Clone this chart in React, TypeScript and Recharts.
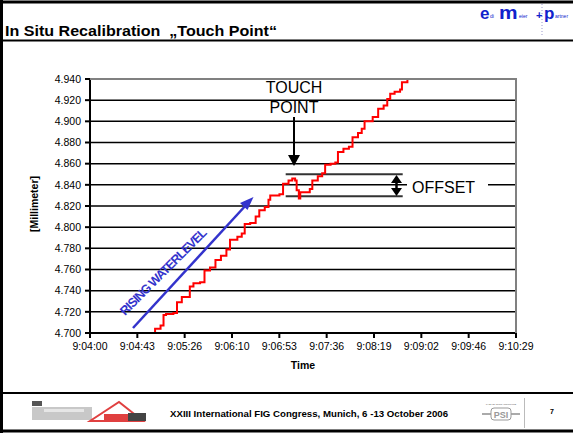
import React from 'react';
import { LineChart, Line, XAxis, YAxis, CartesianGrid, ReferenceLine } from 'recharts';

// seconds after 9:04:00
const timeSec = [
  54.4, 59.4, 64.4, 67.1, 69.4, 76.1, 79.4, 83.8, 87.8, 91.1, 94.4, 100.5, 104.5, 109.5, 114.5,
  119.5, 124.5, 127.8, 134.5, 138.5, 141.2, 146.2, 151.2, 154.5, 159.5, 162.9, 164.5, 172.9,
  176.2, 181.2, 184.6, 187.2, 188.6, 190.6, 191.9, 196.2, 200.6, 202.9, 207.9, 211.9, 214.6,
  219.6, 223.9, 226.3, 231.3, 236.3, 239.6, 244.6, 248.0, 250.6, 255.3, 258.0, 263.0, 268.0,
  271.3, 274.0, 278.0, 283.0, 284.7, 289.7, 294.7,
];
const levelMm = [
  4.700, 4.704, 4.707, 4.717, 4.718, 4.719, 4.729, 4.734, 4.734, 4.744, 4.747, 4.748, 4.759,
  4.762, 4.769, 4.773, 4.779, 4.788, 4.791, 4.794, 4.803, 4.804, 4.810, 4.816, 4.819, 4.826,
  4.830, 4.831, 4.841, 4.844, 4.846, 4.844, 4.835, 4.827, 4.833, 4.833, 4.836, 4.844, 4.848,
  4.851, 4.859, 4.860, 4.861, 4.871, 4.874, 4.876, 4.885, 4.889, 4.893, 4.900, 4.900, 4.904,
  4.912, 4.915, 4.921, 4.926, 4.928, 4.930, 4.937, 4.940, 4.940,
];

const timeTicks = [0, 43.2, 86.4, 129.6, 172.8, 216, 259.2, 302.4, 345.6, 388.8];
const timeLabels = [
  '9:04:00', '9:04:43', '9:05:26', '9:06:10', '9:06:53',
  '9:07:36', '9:08:19', '9:09:02', '9:09:46', '9:10:29',
];
const levelTicks = [4.70, 4.72, 4.74, 4.76, 4.78, 4.80, 4.82, 4.84, 4.86, 4.88, 4.90, 4.92, 4.94];

// offset band (before / after touch)
const offsetTop = 4.8499;
const offsetBottom = 4.8293;
const offsetFrom = 178.6;
const offsetTo = 285.4;

const data = timeSec.map((t, i) => ({ t, level: levelMm[i] }));

const FONT = '"Liberation Sans", Arial, Helvetica, sans-serif';
const tickStyle = { fontSize: 10.5, fill: '#000', fontFamily: FONT };

const Overlay = () => (
  <svg
    width={573}
    height={433}
    style={{ position: 'absolute', left: 0, top: 0, pointerEvents: 'none' }}
    fontFamily={FONT}
  >
    {/* slide frame */}
    <line x1={1.5} y1={0} x2={1.5} y2={433} stroke="#000" strokeWidth={3} />
    <line x1={0} y1={2} x2={573} y2={2} stroke="#000" strokeWidth={3} />
    <line x1={0} y1={431} x2={573} y2={431} stroke="#000" strokeWidth={3} />
    <line x1={0} y1={40.5} x2={573} y2={40.5} stroke="#000" strokeWidth={2} />
    <line x1={0} y1={393} x2={573} y2={393} stroke="#000" strokeWidth={2} />

    {/* title */}
    <text
      x={5}
      y={36}
      fontSize={14.5}
      fontWeight="bold"
      fill="#000"
      textLength={272}
      lengthAdjust="spacingAndGlyphs"
    >
      {'In Situ Recalibration\u00a0 „Touch Point“'}
    </text>

    {/* company logo */}
    <line x1={542} y1={4} x2={542} y2={36} stroke="#9999cc" strokeWidth={1} strokeDasharray="1 2" />
    <g fill="#1122cc" fontWeight={900}>
      <text x={480} y={19} fontSize={17}>e</text>
      <text x={490} y={18} fontSize={5} fontWeight="normal">di</text>
      <text x={499} y={19} fontSize={19} transform="translate(-50,0) scale(1.1,1)">m</text>
      <text x={519} y={18} fontSize={5} fontWeight="normal">eier</text>
      <text x={536} y={19} fontSize={11}>+</text>
      <text x={544} y={19} fontSize={17}>p</text>
      <text x={555} y={18} fontSize={5} fontWeight="normal">artner</text>
    </g>

    {/* plot frame (top / right) */}
    <line x1={90} y1={79} x2={517} y2={79} stroke="#808080" strokeWidth={2} />
    <line x1={516} y1={78} x2={516} y2={333} stroke="#808080" strokeWidth={2} />

    {/* axis titles */}
    <text x={303} y={369} fontSize={10.5} fontWeight="bold" textAnchor="middle">Time</text>
    <text
      x={0}
      y={0}
      fontSize={10.5}
      fontWeight="bold"
      textAnchor="middle"
      transform="translate(38,204) rotate(-90)"
    >
      [Millimeter]
    </text>

    {/* touch point */}
    <text x={294} y={93} fontSize={16} textAnchor="middle">TOUCH</text>
    <text x={294} y={113} fontSize={16} textAnchor="middle">POINT</text>
    <line x1={294} y1={117} x2={294} y2={156} stroke="#000" strokeWidth={2} />
    <path d="M288,155 L300,155 L294,166 Z" fill="#000" />

    {/* offset */}
    <line x1={396.5} y1={180} x2={396.5} y2={190} stroke="#000" strokeWidth={2.5} />
    <path d="M391,183 L402,183 L396.5,175 Z" fill="#000" />
    <path d="M391,188 L402,188 L396.5,196 Z" fill="#000" />
    <rect x={407} y={178} width={81} height={14} fill="#fff" />
    <text x={412} y={193} fontSize={16}>OFFSET</text>

    {/* rising water level */}
    <line x1={133} y1={328} x2={247} y2={204} stroke="#3333CC" strokeWidth={2.5} />
    <path d="M253.5,197 L240,203 L247.5,210 Z" fill="#3333CC" />
    <text
      x={0}
      y={0}
      fontSize={12.5}
      fontWeight="bold"
      fill="#3333CC"
      textAnchor="middle"
      letterSpacing={-0.9}
      transform="translate(166,275) rotate(-45)"
    >
      RISING WATERLEVEL
    </text>

    {/* footer */}
    <rect x={32} y={401} width={10} height={5} fill="#555" />
    <rect x={32} y={407} width={60} height={13} fill="#c8c8c8" />
    <rect x={44} y={409} width={40} height={3} fill="#e6e6e6" />
    <path d="M90,421 L119,402 L143,421 Z" fill="none" stroke="#e04040" strokeWidth={2} />
    <rect x={104} y={414} width={24} height={6} fill="#e04040" />
    <rect x={128} y={413} width={18} height={8} fill="#444" />
    <text
      x={170}
      y={417}
      fontSize={9.3}
      fontWeight="bold"
      fill="#000"
      textLength={278}
      lengthAdjust="spacingAndGlyphs"
    >
      XXIII International FIG Congress, Munich, 6 -13 October 2006
    </text>
    <text x={501} y={405} fontSize={2.5} fill="#666" textAnchor="middle">THE LEADING INSTITUTE</text>
    <line x1={482} y1={414} x2={520} y2={414} stroke="#aaa" strokeWidth={2} />
    <rect x={491} y={408} width={20} height={12} rx={3} fill="#fff" stroke="#999" strokeWidth={1} />
    <text x={501} y={418} fontSize={9} fill="#999" textAnchor="middle" fontWeight="bold">PSI</text>
    <line x1={524.5} y1={398} x2={524.5} y2={428} stroke="#bbb" strokeWidth={1} />
    <text x={550} y={414} fontSize={7} fontWeight="bold" fill="#000">7</text>
  </svg>
);

export default function App() {
  return (
    <div style={{ position: 'absolute', left: 0, top: 0, width: 573, height: 433, background: '#fff' }}>
      <LineChart
        width={573}
        height={433}
        data={data}
        margin={{ top: 79, right: 57, bottom: 70, left: 30 }}
      >
        <CartesianGrid vertical={false} stroke="#000" strokeWidth={1.5} />
        <XAxis
          dataKey="t"
          type="number"
          domain={[0, 388.8]}
          ticks={timeTicks}
          tickFormatter={(_v: number, i: number) => timeLabels[i]}
          height={30}
          tickSize={5}
          tickMargin={5}
          stroke="#000"
          strokeWidth={2}
          tick={tickStyle}
          interval={0}
        />
        <YAxis
          type="number"
          domain={[4.7, 4.94]}
          ticks={levelTicks}
          tickFormatter={(v: number) => v.toFixed(3)}
          width={60}
          tickSize={5}
          tickMargin={4}
          stroke="#000"
          strokeWidth={2}
          tick={tickStyle}
          interval={0}
        />
        <ReferenceLine
          segment={[{ x: offsetFrom, y: offsetTop }, { x: offsetTo, y: offsetTop }]}
          stroke="#333"
          strokeWidth={2}
        />
        <ReferenceLine
          segment={[{ x: offsetFrom, y: offsetBottom }, { x: offsetTo, y: offsetBottom }]}
          stroke="#333"
          strokeWidth={2}
        />
        <Line
          dataKey="level"
          type="stepAfter"
          stroke="#FF0000"
          strokeWidth={2}
          dot={false}
          isAnimationActive={false}
        />
      </LineChart>
      <Overlay />
    </div>
  );
}
